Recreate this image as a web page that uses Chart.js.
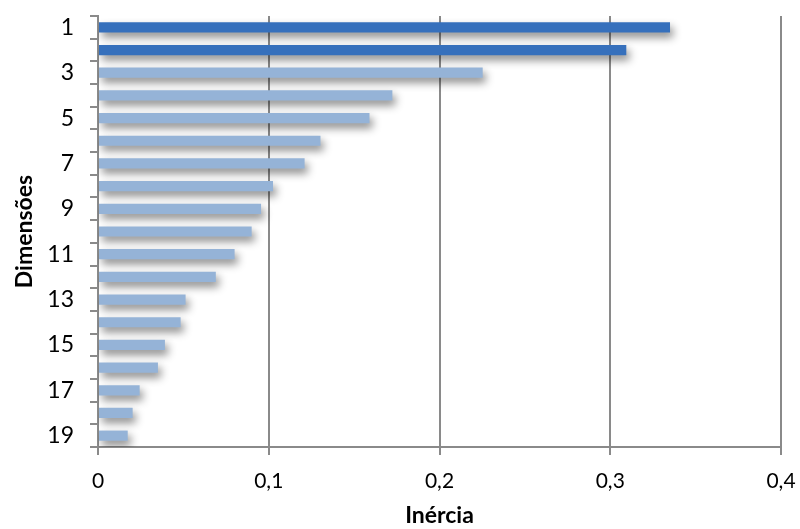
<!DOCTYPE html>
<html>
<head>
    <title>Inércia por dimensão</title>
    <script src="https://cdn.jsdelivr.net/npm/chart.js"></script>
    <style>
        body {
            margin: 0;
            background: #fff;
        }
        #wrap {
            width: 800px;
            height: 529px;
        }
    </style>
</head>
<body>
    <div id="wrap"><canvas id="inerciaChart"></canvas></div>

    <script>
        const dimensoes = ['1', '2', '3', '4', '5', '6', '7', '8', '9', '10',
                           '11', '12', '13', '14', '15', '16', '17', '18', '19'];
        const inercia = [0.335, 0.3094, 0.2253, 0.1724, 0.159, 0.1303, 0.121, 0.1025, 0.0955, 0.090,
                         0.080, 0.069, 0.0513, 0.0484, 0.0392, 0.0351, 0.0244, 0.0203, 0.0174];
        const xTicks = [0, 0.1, 0.2, 0.3, 0.4];

        const fonte = "Lato, 'Open Sans', sans-serif";

        // soft drop shadow under the bars
        const sombra = {
            id: 'sombra',
            beforeDatasetsDraw(chart) {
                const ctx = chart.ctx;
                ctx.save();
                ctx.shadowColor = 'rgba(0,0,0,0.45)';
                ctx.shadowBlur = 8;
                ctx.shadowOffsetX = 3;
                ctx.shadowOffsetY = 5;
            },
            afterDatasetsDraw(chart) {
                chart.ctx.restore();
            }
        };

        function corBarra(c) {
            if (c.dataIndex < 2) {
                const el = c.element;
                if (el && el.height) {
                    const top = el.y - Math.abs(el.height) / 2;
                    const g = c.chart.ctx.createLinearGradient(0, top, 0, top + Math.abs(el.height));
                    g.addColorStop(0, '#3d7dcc');
                    g.addColorStop(1, '#2c5d9e');
                    return g;
                }
                return '#3670bc';
            }
            return '#95b3d7';
        }

        new Chart(document.getElementById('inerciaChart'), {
            type: 'bar',
            data: {
                labels: dimensoes,
                datasets: [{
                    data: inercia,
                    backgroundColor: corBarra,
                    borderWidth: 0,
                    barPercentage: 0.9,
                    categoryPercentage: 0.5
                }]
            },
            options: {
                indexAxis: 'y',
                responsive: true,
                maintainAspectRatio: false,
                animation: false,
                layout: { padding: { top: 16, right: 19, left: 0, bottom: 0 } },
                plugins: {
                    legend: { display: false },
                    tooltip: { enabled: false }
                },
                scales: {
                    x: {
                        min: 0,
                        max: 0.4,
                        afterBuildTicks(scale) {
                            scale.ticks = xTicks.map(v => ({ value: v }));
                        },
                        afterFit(scale) {
                            scale.height = 82;
                            scale.paddingLeft = 0;
                            scale.paddingRight = 0;
                        },
                        grid: {
                            color: '#8a8a8a',
                            lineWidth: 2,
                            tickLength: 8
                        },
                        border: { color: '#8a8a8a', width: 2 },
                        ticks: {
                            color: '#000',
                            padding: 14,
                            font: { family: fonte, size: 21 },
                            callback: v => v === 0 ? '0' : v.toFixed(1).replace('.', ',')
                        },
                        title: {
                            display: true,
                            text: 'Inércia',
                            color: '#000',
                            font: { family: fonte, size: 23, weight: 'bold' },
                            padding: { top: 2, bottom: 0 }
                        }
                    },
                    y: {
                        afterFit(scale) {
                            scale.width = 98;
                            scale.paddingTop = 0;
                            scale.paddingBottom = 0;
                        },
                        grid: {
                            drawOnChartArea: false,
                            color: '#8a8a8a',
                            lineWidth: 2,
                            tickLength: 8
                        },
                        border: { color: '#8a8a8a', width: 2 },
                        ticks: {
                            autoSkip: false,
                            color: '#000',
                            padding: 16,
                            font: { family: fonte, size: 23 },
                            callback: (v, i) => i % 2 === 0 ? dimensoes[i] : ''
                        },
                        title: {
                            display: true,
                            text: 'Dimensões',
                            color: '#000',
                            font: { family: fonte, size: 23, weight: 'bold' },
                            padding: { top: 11, bottom: 0 }
                        }
                    }
                }
            },
            plugins: [sombra]
        });
    </script>
</body>
</html>
